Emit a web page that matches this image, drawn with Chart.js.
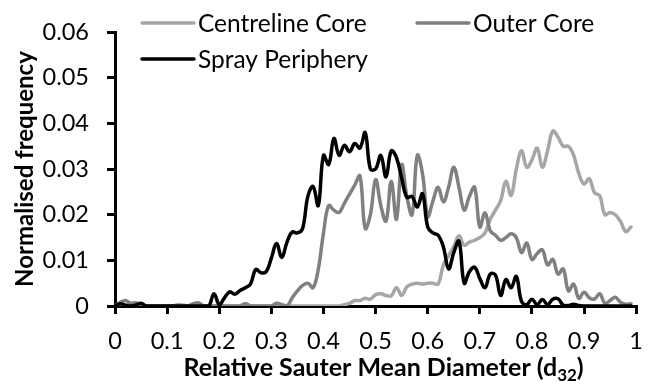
<!DOCTYPE html>
<html>
<head>
<meta charset="utf-8">
<script src="https://cdn.jsdelivr.net/npm/chart.js@4.4.1/dist/chart.umd.min.js"></script>
<style>
  html, body { margin: 0; padding: 0; background: #fff; }
  #wrap { width: 656px; height: 387px; }
</style>
</head>
<body>
<div id="wrap"><canvas id="grafico" width="656" height="387"></canvas></div>
<script>
// relative d32 bins (0 .. 0.99)
const diametros = [
  0.00, 0.01, 0.02, 0.03, 0.04, 0.05, 0.06, 0.07, 0.08, 0.09,
  0.10, 0.11, 0.12, 0.13, 0.14, 0.15, 0.16, 0.17, 0.18, 0.19,
  0.20, 0.21, 0.22, 0.23, 0.24, 0.25, 0.26, 0.27, 0.28, 0.29,
  0.30, 0.31, 0.32, 0.33, 0.34, 0.35, 0.36, 0.37, 0.38, 0.39,
  0.40, 0.41, 0.42, 0.43, 0.44, 0.45, 0.46, 0.47, 0.48, 0.49,
  0.50, 0.51, 0.52, 0.53, 0.54, 0.55, 0.56, 0.57, 0.58, 0.59,
  0.60, 0.61, 0.62, 0.63, 0.64, 0.65, 0.66, 0.67, 0.68, 0.69,
  0.70, 0.71, 0.72, 0.73, 0.74, 0.75, 0.76, 0.77, 0.78, 0.79,
  0.80, 0.81, 0.82, 0.83, 0.84, 0.85, 0.86, 0.87, 0.88, 0.89,
  0.90, 0.91, 0.92, 0.93, 0.94, 0.95, 0.96, 0.97, 0.98, 0.99
];

const centrelineCore = [
  0, 0.0003, 0.0002, 0, 0, 0, 0, 0, 0, 0,
  0, 0, 0.0003, 0.0002, 0, 0, 0, 0, 0, 0,
  0, 0, 0, 0, 0, 0, 0, 0, 0, 0,
  0, 0, 0, 0, 0, 0, 0, 0, 0, 0,
  0, 0, 0, 0, 0.0003, 0.0006, 0.0012, 0.0012, 0.0017, 0.0015,
  0.0025, 0.0027, 0.0023, 0.0022, 0.0040, 0.0023, 0.0042, 0.0048, 0.0050, 0.0048,
  0.0050, 0.0050, 0.0048, 0.0090, 0.0110, 0.0130, 0.0154, 0.0133, 0.0140, 0.0144,
  0.0150, 0.0160, 0.0190, 0.0210, 0.0231, 0.0273, 0.0242, 0.0300, 0.0340, 0.0304,
  0.0320, 0.0346, 0.0304, 0.0340, 0.0383, 0.0370, 0.0350, 0.0350, 0.0330, 0.0290,
  0.0267, 0.0279, 0.0248, 0.0242, 0.0200, 0.0205, 0.0200, 0.0185, 0.0163, 0.0173
];

const outerCore = [
  0, 0.0008, 0.0012, 0.0006, 0.0007, 0.0003, 0, 0, 0, 0,
  0, 0, 0, 0, 0, 0.0005, 0.0007, 0, 0, 0,
  0, 0, 0, 0, 0, 0.0005, 0, 0, 0, 0,
  0, 0.0006, 0.0003, 0, 0.0018, 0.0033, 0.0045, 0.0050, 0.0040, 0.0080,
  0.0160, 0.0220, 0.0210, 0.0205, 0.0225, 0.0245, 0.0265, 0.0285, 0.0170, 0.0200,
  0.0277, 0.0220, 0.0186, 0.0273, 0.0190, 0.0310, 0.0240, 0.0200, 0.0330, 0.0290,
  0.0196, 0.0230, 0.0260, 0.0228, 0.0260, 0.0304, 0.0260, 0.0210, 0.0240, 0.0260,
  0.0173, 0.0204, 0.0165, 0.0155, 0.0144, 0.0150, 0.0158, 0.0150, 0.0117, 0.0138,
  0.0102, 0.0115, 0.0123, 0.0090, 0.0102, 0.0070, 0.0081, 0.0033, 0.0048, 0.0017,
  0.0030, 0.0018, 0.0015, 0.0027, 0.0006, 0.0012, 0.0019, 0.0008, 0.0004, 0.0005
];

const sprayPeriphery = [
  0, 0.0005, 0.0002, 0, 0.0002, 0.0006, 0, 0, 0, 0,
  0, 0, 0, 0, 0, 0, 0, 0, 0, 0.0027,
  0.0003, 0.0018, 0.0031, 0.0026, 0.0034, 0.0040, 0.0048, 0.0080, 0.0073, 0.0075,
  0.0105, 0.0137, 0.0106, 0.0140, 0.0162, 0.0160, 0.0170, 0.0240, 0.0262, 0.0220,
  0.0330, 0.0310, 0.0367, 0.0330, 0.0352, 0.0338, 0.0356, 0.0346, 0.0380, 0.0300,
  0.0300, 0.0330, 0.0283, 0.0340, 0.0325, 0.0280, 0.0238, 0.0240, 0.0217, 0.0246,
  0.0173, 0.0160, 0.0155, 0.0130, 0.0081, 0.0117, 0.0142, 0.0050, 0.0075, 0.0085,
  0.0060, 0.0040, 0.0070, 0.0068, 0.0023, 0.0058, 0.0040, 0.0065, 0.0010, 0.0003,
  0.0015, 0.0003, 0.0014, 0.0003, 0.0015, 0.0016, 0.0002, 0.0001, 0.0004, 0.0001,
  0, 0, 0, 0, 0, 0, 0, 0, 0, 0
];

const nombresSeries = ["Centreline Core", "Outer Core", "Spray Periphery"];
const tituloX = ["Relative Sauter Mean Diameter (d", "32", ")"];
const tituloY = "Normalised frequency";

const FUENTE = "Lato, 'Open Sans', sans-serif";

const puntos = serie => serie.map((v, i) => ({ x: diametros[i], y: v }));

// legend drawn inside the plot, two rows like the original figure
const leyendaPlugin = {
  id: "leyendaInterior",
  afterDatasetsDraw(chart) {
    const ctx = chart.ctx;
    const filas = [
      { ds: 0, x: 142, y: 23 },
      { ds: 1, x: 417, y: 23 },
      { ds: 2, x: 142, y: 59 }
    ];
    ctx.save();
    ctx.font = "24.5px " + FUENTE;
    ctx.textBaseline = "middle";
    ctx.fillStyle = "#000";
    filas.forEach(f => {
      const ds = chart.data.datasets[f.ds];
      ctx.strokeStyle = ds.borderColor;
      ctx.lineWidth = ds.borderWidth;
      ctx.lineCap = "round";
      ctx.beginPath();
      ctx.moveTo(f.x, f.y);
      ctx.lineTo(f.x + 52, f.y);
      ctx.stroke();
      ctx.fillText(ds.label, f.x + 56, f.y + 1);
    });
    ctx.restore();
  }
};

// x title with the subscript in d32
const tituloXPlugin = {
  id: "tituloX",
  afterDraw(chart) {
    const ctx = chart.ctx;
    const area = chart.chartArea;
    const normal = "bold 25px " + FUENTE;
    const sub = "bold 17px " + FUENTE;
    ctx.save();
    ctx.fillStyle = "#000";
    ctx.textBaseline = "alphabetic";
    ctx.font = normal;
    const w0 = ctx.measureText(tituloX[0]).width;
    const w2 = ctx.measureText(tituloX[2]).width;
    ctx.font = sub;
    const w1 = ctx.measureText(tituloX[1]).width;
    let x = (area.left + area.right) / 2 + 8 - (w0 + w1 + w2) / 2;
    const y = 376;
    ctx.font = normal;
    ctx.fillText(tituloX[0], x, y);
    x += w0;
    ctx.font = sub;
    ctx.fillText(tituloX[1], x, y + 5);
    x += w1;
    ctx.font = normal;
    ctx.fillText(tituloX[2], x, y);
    ctx.restore();
  }
};

new Chart(document.getElementById("grafico"), {
  type: "line",
  data: {
    datasets: [
      {
        label: nombresSeries[0],
        data: puntos(centrelineCore),
        borderColor: "#a6a6a6",
        borderWidth: 3.5,
        order: 2
      },
      {
        label: nombresSeries[1],
        data: puntos(outerCore),
        borderColor: "#808080",
        borderWidth: 3.5,
        order: 1
      },
      {
        label: nombresSeries[2],
        data: puntos(sprayPeriphery),
        borderColor: "#000000",
        borderWidth: 3.5,
        order: 0
      }
    ]
  },
  options: {
    responsive: false,
    animation: false,
    devicePixelRatio: 1,
    layout: { padding: { left: 0, right: 8, top: 18, bottom: 0 } },
    elements: {
      point: { radius: 0 },
      line: { tension: 0.4, fill: false, borderCapStyle: "round", borderJoinStyle: "round" }
    },
    plugins: {
      legend: { display: false },
      tooltip: { enabled: false }
    },
    scales: {
      x: {
        type: "linear",
        min: 0,
        max: 1,
        afterFit: s => { s.height = 81; },
        border: { display: true, color: "#000", width: 3 },
        grid: { display: true, drawOnChartArea: false, drawTicks: true, tickLength: 8, color: "#000", lineWidth: 3 },
        ticks: {
          stepSize: 0.1,
          padding: 13,
          color: "#000",
          maxRotation: 0,
          font: { family: FUENTE, size: 23.5 },
          callback: v => String(Math.round(v * 10) / 10)
        }
      },
      y: {
        min: 0,
        max: 0.06,
        afterFit: s => { s.width = 115; },
        border: { display: true, color: "#000", width: 3 },
        grid: { display: true, drawOnChartArea: false, drawTicks: true, tickLength: 8, color: "#000", lineWidth: 3 },
        title: {
          display: true,
          text: tituloY,
          color: "#000",
          padding: { top: 11, bottom: 0 },
          font: { family: FUENTE, size: 24, weight: "bold" }
        },
        ticks: {
          stepSize: 0.01,
          padding: 18,
          color: "#000",
          font: { family: FUENTE, size: 23.5 },
          callback: v => (v === 0 ? "0" : v.toFixed(2))
        }
      }
    }
  },
  plugins: [leyendaPlugin, tituloXPlugin]
});
</script>
</body>
</html>
